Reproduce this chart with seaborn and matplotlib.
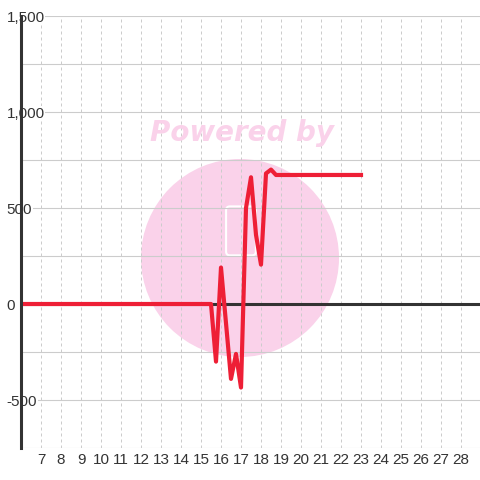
"""
Linha vermelha com oscilação em torno de x=16-18, eixo zero destacado.
"""
import matplotlib
matplotlib.use("Agg")
import numpy as np
import pandas as pd
import matplotlib.pyplot as plt
import seaborn as sns
from matplotlib.patches import Circle, FancyBboxPatch

# Dados
x_vals = [6.0, 15.5, 15.75, 16.0, 16.25, 16.5, 16.75, 17.0, 17.25, 17.5,
          17.75, 18.0, 18.25, 18.5, 18.75, 23.0]
y_vals = [0, 0, -300, 190, -100, -390, -260, -435, 500, 660,
          360, 205, 680, 700, 672, 672]
x_ticks = list(range(7, 29))
y_ticks = [-750, -500, -250, 0, 250, 500, 750, 1000, 1250, 1500]
y_labels = ["", "-500", "", "0", "", "500", "", "1,000", "", "1,500"]

sns.set_theme(style="white")
plt.rcParams["font.family"] = ["Liberation Sans", "DejaVu Sans"]

df = pd.DataFrame({"x": x_vals, "y": y_vals})

fig = plt.figure(figsize=(4.8, 4.8), dpi=100, facecolor="white")
ax = fig.add_axes([21 / 480, 32 / 480, 460 / 480, 432 / 480])
ax.set_facecolor("white")

# Marca d'água
pink = "#FAD2EA"
ax.add_patch(Circle((0.5, 0.4625), 99 / 480, transform=fig.transFigure,
                    facecolor=pink, edgecolor="none", zorder=0.1))
ax.add_patch(FancyBboxPatch((0.471, 0.468), 0.062, 0.102,
                            boxstyle="round,pad=0,rounding_size=0.008",
                            transform=fig.transFigure, facecolor="none",
                            edgecolor="white", linewidth=1.5, zorder=0.2))
fig.text(0.505, 0.722, "Powered by", color=pink, fontsize=20,
         fontweight="bold", fontstyle="italic", family="DejaVu Sans",
         ha="center", va="center", zorder=0)

# Grades
for xv in x_ticks:
    ax.axvline(xv, color="#cccccc", linewidth=0.72, linestyle=(0, (3, 3)),
               zorder=0.5)
for yv in y_ticks:
    ax.axhline(yv, color="#cccccc", linewidth=0.8, zorder=0.5)

ax.axhline(0, color="#333333", linewidth=2.2, zorder=1.5)

sns.lineplot(data=df, x="x", y="y", ax=ax, color="#EE1F36", linewidth=3,
             zorder=2)
for line in ax.get_lines()[-1:]:
    line.set_solid_joinstyle("round")
    line.set_solid_capstyle("projecting")

ax.set_xlim(6, 29)
ax.set_ylim(-750, 1500)
ax.set_xticks(x_ticks)
ax.set_xticklabels([str(v) for v in x_ticks])
ax.set_yticks(y_ticks)
ax.set_yticklabels(y_labels)
ax.set_xlabel("")
ax.set_ylabel("")

for side in ["top", "right", "bottom"]:
    ax.spines[side].set_visible(False)
ax.spines["left"].set_color("#333333")
ax.spines["left"].set_linewidth(2.2)

ax.tick_params(axis="x", length=0, pad=3.5, labelsize=11, colors="#333333")
ax.tick_params(axis="y", length=0, pad=10.5, labelsize=11, colors="#333333")
for lbl in ax.get_yticklabels():
    lbl.set_horizontalalignment("left")
    lbl.set_bbox(dict(facecolor="white", edgecolor="none", pad=0.5))

plt.savefig("out.png", dpi=100)
plt.close(fig)
